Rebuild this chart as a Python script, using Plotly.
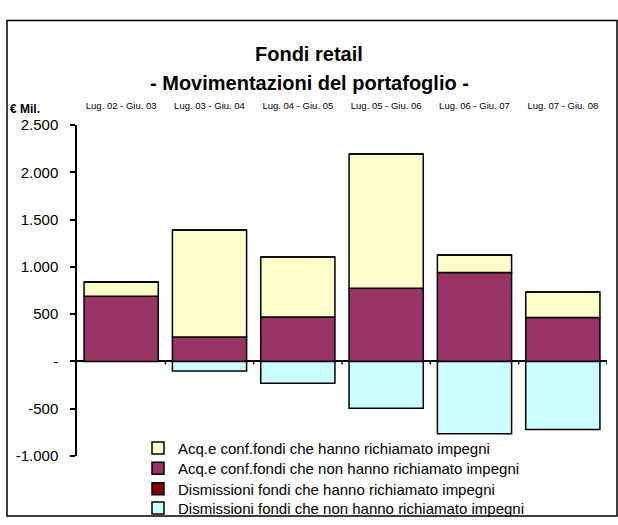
import plotly.graph_objects as go

# Data (€ Mil.)
periods = ["Lug. 02 - Giu. 03", "Lug. 03 - Giu. 04", "Lug. 04 - Giu. 05",
           "Lug. 05 - Giu. 06", "Lug. 06 - Giu. 07", "Lug. 07 - Giu. 08"]
acq_richiamato = [150, 1130, 635, 1420, 185, 270]
acq_non_richiamato = [690, 260, 470, 775, 940, 465]
dism_richiamato = [0, 0, 0, 0, 0, 0]
dism_non_richiamato = [0, -100, -230, -495, -765, -720]

y_tickvals = [-1000, -500, 0, 500, 1000, 1500, 2000, 2500]
y_ticktext = ["-1.000", "-500", "-", "500", "1.000", "1.500", "2.000", "2.500"]

W, H = 618, 525
FONT = "Liberation Sans, Arial, sans-serif"


def px_x(p):
    return p / W


def px_y(p):
    return 1 - p / H


fig = go.Figure()

# (name, values, colour, legend id, legend row y in px)
series = [
    ("Acq.e conf.fondi che non hanno richiamato impegni", acq_non_richiamato, "#993366", "legend2", 475),
    ("Acq.e conf.fondi che hanno richiamato impegni", acq_richiamato, "#FFFFCC", "legend", 454),
    ("Dismissioni fondi che hanno richiamato impegni", dism_richiamato, "#800000", "legend3", 496),
    ("Dismissioni fondi che non hanno richiamato impegni", dism_non_richiamato, "#CCFFFF", "legend4", 516),
]
legends = {}
for name, vals, col, leg, row in series:
    fig.add_trace(go.Bar(
        x=periods, y=vals, name=name, legend=leg,
        marker=dict(color=col, line=dict(color="black", width=1.5)),
    ))
    legends[leg] = dict(x=px_x(138), y=px_y(row), xanchor="left", yanchor="middle",
                        font=dict(size=15), bgcolor="rgba(0,0,0,0)")

# small tick marks on the zero line between categories
shapes = []
for i in range(len(periods)):
    shapes.append(dict(type="line", xref="x", yref="y", ysizemode="pixel", yanchor=0,
                       x0=i + 0.5, x1=i + 0.5, y0=0, y1=-3,
                       line=dict(color="black", width=1.5)))
# outer frame
shapes.append(dict(type="rect", xref="paper", yref="paper",
                   x0=px_x(7), x1=px_x(617), y0=px_y(524), y1=px_y(12),
                   line=dict(color="black", width=1.5), fillcolor="rgba(0,0,0,0)"))

fig.update_layout(
    width=W, height=H,
    margin=dict(l=0, r=0, t=0, b=0),
    barmode="relative", bargap=0.16,
    plot_bgcolor="white", paper_bgcolor="white",
    font=dict(family=FONT, color="black"),
    showlegend=True,
    shapes=shapes,
    annotations=[
        dict(text="<b>Fondi retail</b>", xref="paper", yref="paper",
             x=px_x(309), y=px_y(33), showarrow=False, font=dict(size=20)),
        dict(text="<b>- Movimentazioni del portafoglio -</b>", xref="paper", yref="paper",
             x=px_x(309), y=px_y(63), showarrow=False, font=dict(size=20)),
        dict(text="<b>€ Mil.</b>", xref="paper", yref="paper", xanchor="left",
             x=px_x(9), y=px_y(95), showarrow=False, font=dict(size=12), borderpad=0),
    ],
    **legends,
)
fig.update_xaxes(domain=[px_x(77), px_x(607)], side="top", showline=False, ticks="",
                 showgrid=False, tickfont=dict(size=9.5), ticklabelstandoff=13,
                 range=[-0.5, 5.5])
fig.update_yaxes(domain=[px_y(462), px_y(120)], range=[-1000, 2500],
                 tickvals=y_tickvals, ticktext=y_ticktext,
                 showgrid=False, showline=True, linecolor="black", linewidth=1.5,
                 ticks="outside", ticklen=5, tickwidth=1.5, tickcolor="black",
                 tickfont=dict(size=15), ticklabelstandoff=9,
                 zeroline=True, zerolinecolor="black", zerolinewidth=1.5)

fig.write_html("out.html", config={"displayModeBar": False},
               post_script="document.body.style.margin='0';")
